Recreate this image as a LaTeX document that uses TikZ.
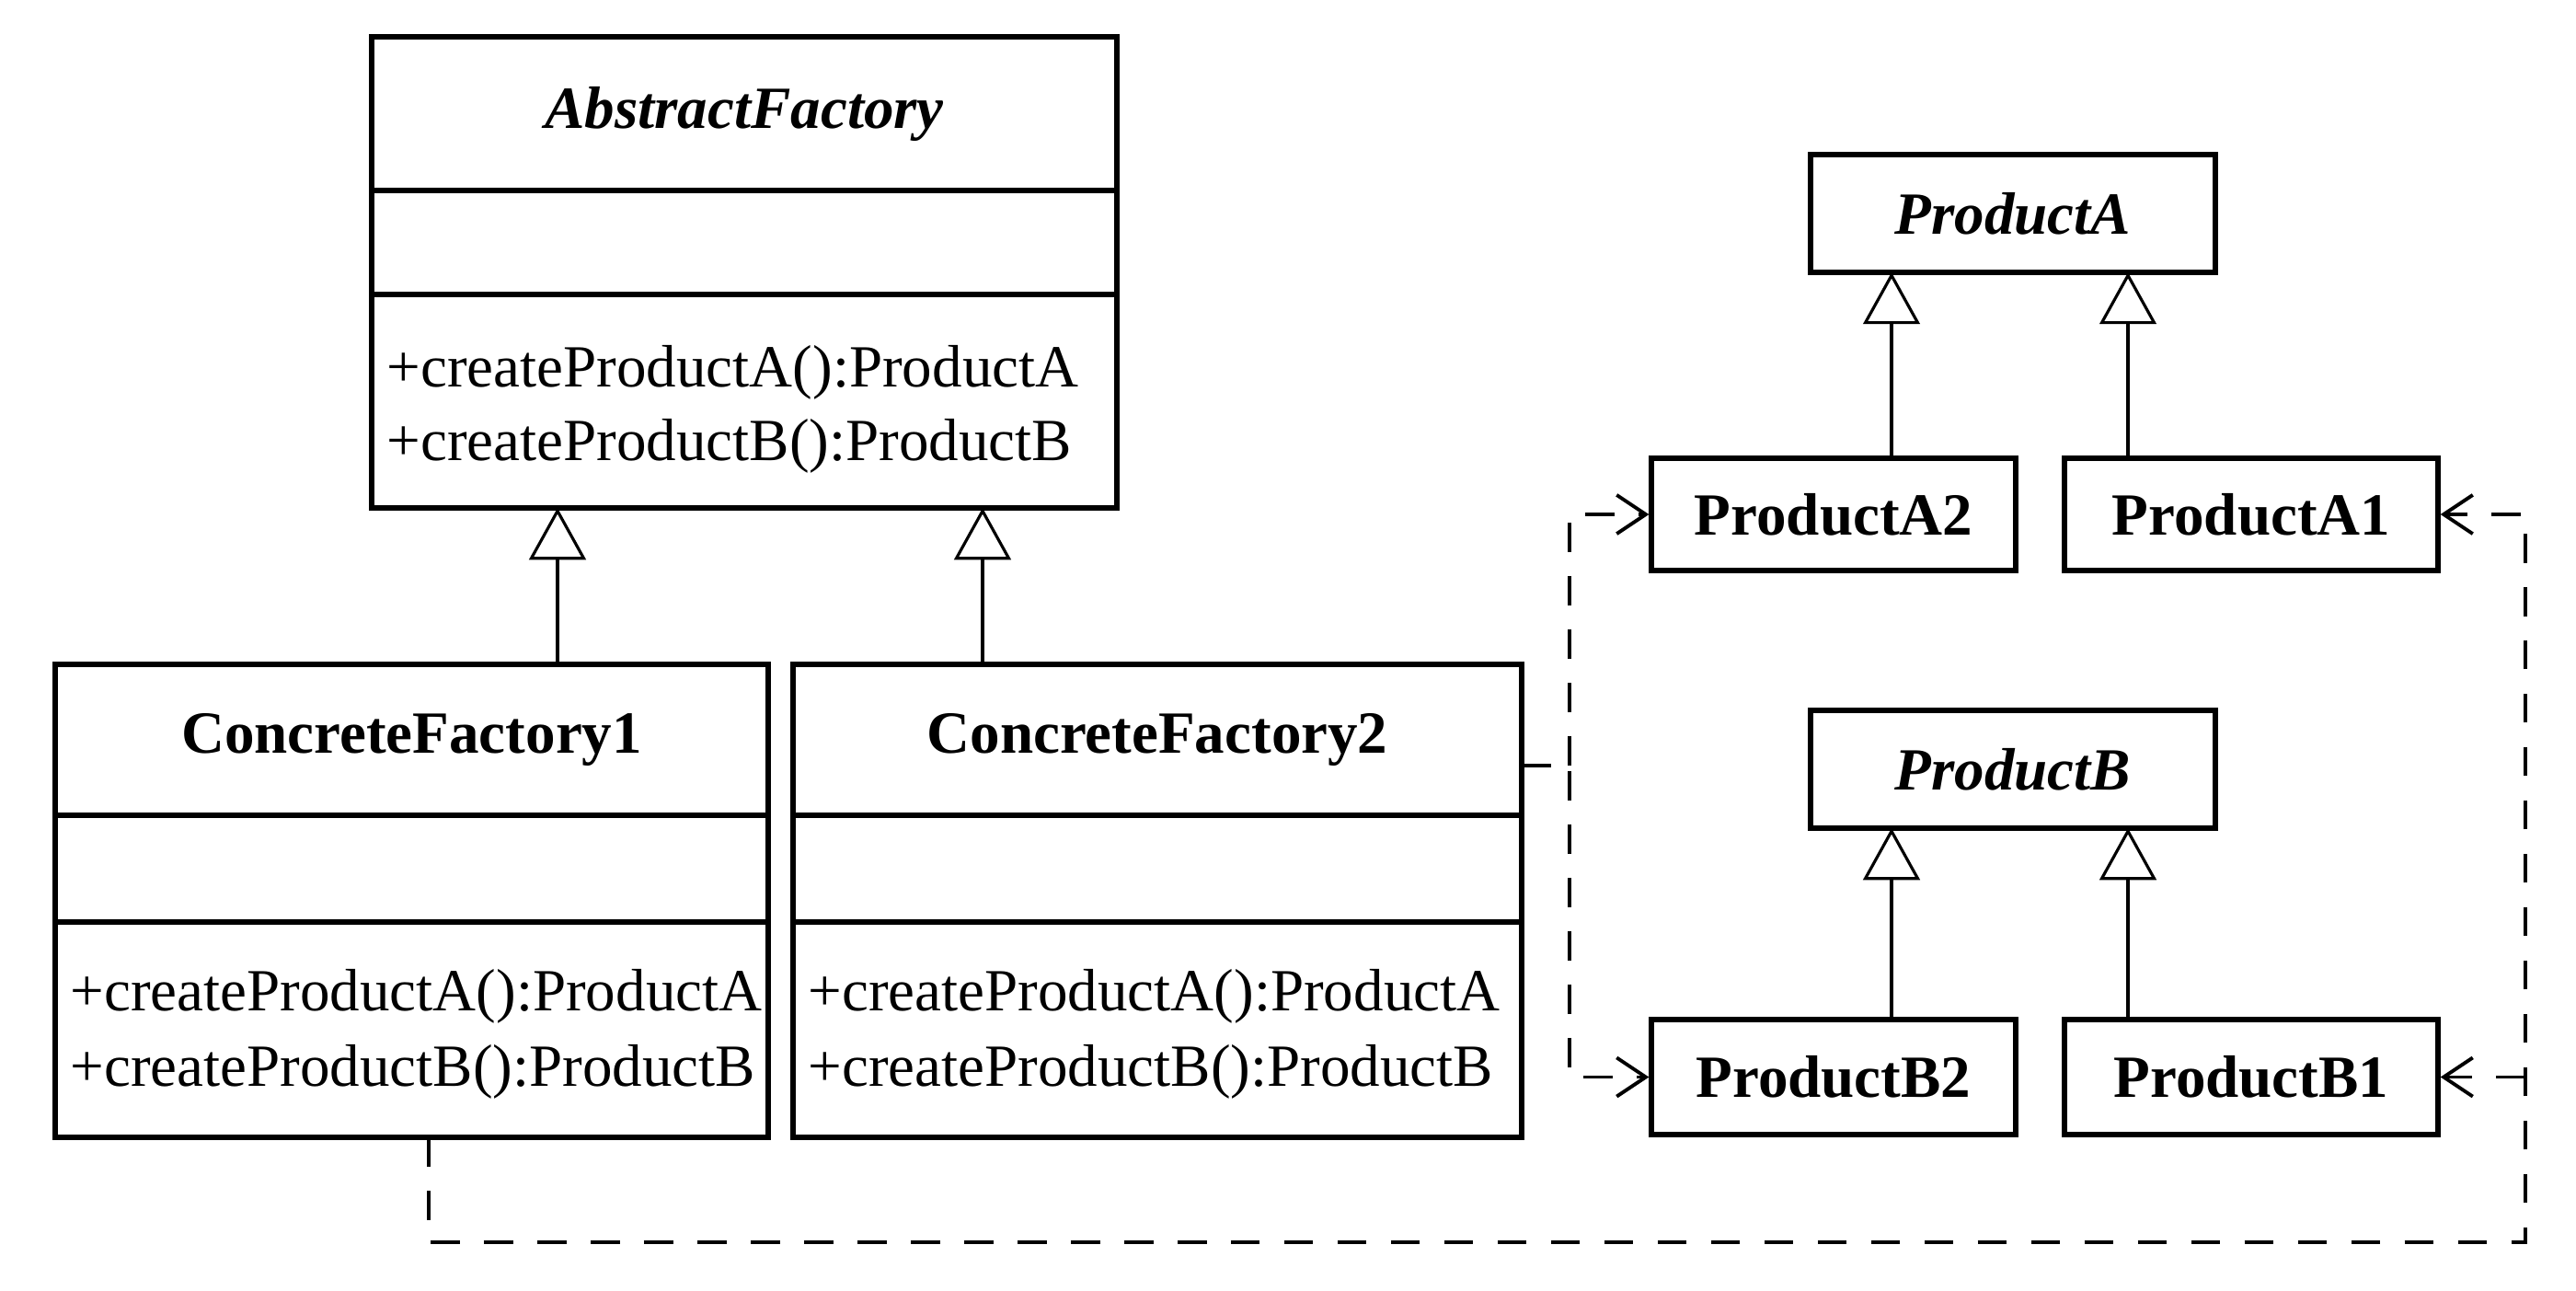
\documentclass[tikz,border=0pt]{standalone}
\usepackage{fontspec}
\setmainfont{Liberation Serif}
\usepackage{tikz}
\usetikzlibrary{arrows.meta, positioning}
\pgfdeclarelayer{edgelayer}
\pgfdeclarelayer{nodelayer}
\pgfsetlayers{nodelayer,main,edgelayer}
\tikzset{
	none/.style={inner sep=0pt, minimum size=0pt},
	classbox/.style={draw, line width=1.5pt, inner sep=0pt, font=\fontsize{18.5}{22}\selectfont\bfseries},
	method/.style={inner sep=0pt, anchor=base west, font=\fontsize{18.5}{22}\selectfont},
	inherit/.style={line width=0.9pt, -{Triangle[length=16pt, width=17.5pt, fill=white]}},
	depend/.style={line width=1.1pt, dash pattern=on 9pt off 7.5pt, -{Straight Barb[length=9pt, width=12pt]}},
	link/.style={line width=1.1pt, dash pattern=on 9pt off 7.5pt},
}

\begin{document}
\begin{tikzpicture}
	\path [use as bounding box] (0, 0) rectangle (28, -14.02);
	\begin{pgfonlayer}{nodelayer}
		\node [style=classbox, minimum width=8.10cm, minimum height=1.67cm] (0) at (8.09, -1.235) {\itshape AbstractFactory};
		\node [style=classbox, minimum width=8.10cm, minimum height=1.13cm] (1) at (8.09, -2.635) {};
		\node [style=classbox, minimum width=8.10cm, minimum height=2.32cm] (2) at (8.09, -4.36) {};
		\node [style=method] (3) at (4.20, -4.20) {+createProductA():ProductA};
		\node [style=method] (4) at (4.20, -5.00) {+createProductB():ProductB};
		\node [style=classbox, minimum width=7.75cm, minimum height=1.64cm] (5) at (4.475, -8.04) {ConcreteFactory1};
		\node [style=classbox, minimum width=7.75cm, minimum height=1.16cm] (6) at (4.475, -9.44) {};
		\node [style=classbox, minimum width=7.75cm, minimum height=2.34cm] (7) at (4.475, -11.19) {};
		\node [style=method] (8) at (0.76, -10.98) {+createProductA():ProductA};
		\node [style=method] (9) at (0.76, -11.80) {+createProductB():ProductB};
		\node [style=classbox, minimum width=7.92cm, minimum height=1.64cm] (10) at (12.58, -8.04) {ConcreteFactory2};
		\node [style=classbox, minimum width=7.92cm, minimum height=1.16cm] (11) at (12.58, -9.44) {};
		\node [style=classbox, minimum width=7.92cm, minimum height=2.34cm] (12) at (12.58, -11.19) {};
		\node [style=method] (13) at (8.78, -10.98) {+createProductA():ProductA};
		\node [style=method] (14) at (8.78, -11.80) {+createProductB():ProductB};
		\node [style=classbox, minimum width=4.40cm, minimum height=1.28cm] (15) at (21.88, -2.32) {\itshape ProductA};
		\node [style=classbox, minimum width=3.96cm, minimum height=1.22cm] (16) at (19.93, -5.59) {ProductA2};
		\node [style=classbox, minimum width=4.06cm, minimum height=1.22cm] (17) at (24.47, -5.59) {ProductA1};
		\node [style=classbox, minimum width=4.40cm, minimum height=1.28cm] (18) at (21.88, -8.36) {\itshape ProductB};
		\node [style=classbox, minimum width=3.96cm, minimum height=1.25cm] (19) at (19.93, -11.705) {ProductB2};
		\node [style=classbox, minimum width=4.06cm, minimum height=1.25cm] (20) at (24.47, -11.705) {ProductB1};
		\node [style=none] (21) at (6.06, -7.22) {};
		\node [style=none] (22) at (6.06, -5.52) {};
		\node [style=none] (23) at (10.68, -7.22) {};
		\node [style=none] (24) at (10.68, -5.52) {};
		\node [style=none] (25) at (20.56, -4.98) {};
		\node [style=none] (26) at (20.56, -2.96) {};
		\node [style=none] (27) at (23.13, -4.98) {};
		\node [style=none] (28) at (23.13, -2.96) {};
		\node [style=none] (29) at (20.56, -11.08) {};
		\node [style=none] (30) at (20.56, -9.00) {};
		\node [style=none] (31) at (23.13, -11.08) {};
		\node [style=none] (32) at (23.13, -9.00) {};
		\node [style=none] (33) at (16.54, -8.32) {};
		\node [style=none] (34) at (17.06, -8.32) {};
		\node [style=none] (35) at (17.06, -5.59) {};
		\node [style=none] (36) at (17.06, -11.705) {};
		\node [style=none] (37) at (4.66, -12.36) {};
		\node [style=none] (38) at (4.66, -13.50) {};
		\node [style=none] (39) at (27.45, -13.50) {};
		\node [style=none] (40) at (27.45, -5.59) {};
		\node [style=none] (41) at (27.45, -11.705) {};
	\end{pgfonlayer}
	\begin{pgfonlayer}{edgelayer}
		\draw [style=inherit] (21.center) to (22.center);
		\draw [style=inherit] (23.center) to (24.center);
		\draw [style=inherit] (25.center) to (26.center);
		\draw [style=inherit] (27.center) to (28.center);
		\draw [style=inherit] (29.center) to (30.center);
		\draw [style=inherit] (31.center) to (32.center);
		\draw [style=depend] (33.center) to (34.center) to (36.center) to (19.west);
		\draw [style=depend] (34.center) to (35.center) to (16.west);
		\draw [style=depend] (37.center) to (38.center) to (39.center) to (40.center) to (17.east);
		\draw [style=depend] (41.center) to (20.east);
	\end{pgfonlayer}
\end{tikzpicture}
\end{document}
